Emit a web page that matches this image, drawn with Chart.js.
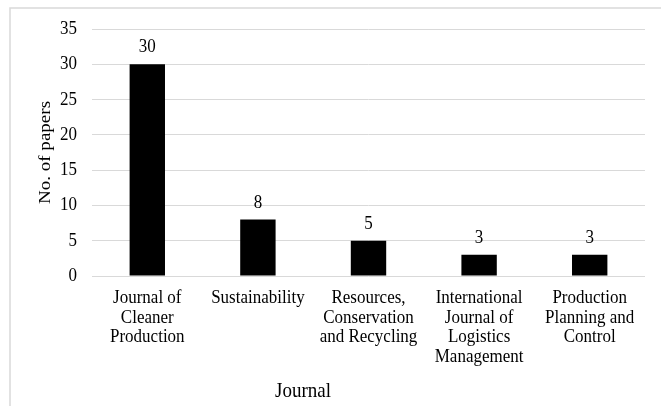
<!DOCTYPE html>
<html>
<head>
<meta charset="utf-8">
<script src="https://cdn.jsdelivr.net/npm/chart.js@4"></script>
<style>
  html, body { margin: 0; padding: 0; background: #ffffff; }
  #wrap { width: 661px; height: 406px; position: relative; }
</style>
</head>
<body>
<div id="wrap"><canvas id="chart" width="661" height="406"></canvas></div>
<script>
// Journals and number of papers published in each
const journals = [
  ['Journal of', 'Cleaner', 'Production'],
  ['Sustainability'],
  ['Resources,', 'Conservation', 'and Recycling'],
  ['International', 'Journal of', 'Logistics', 'Management'],
  ['Production', 'Planning and', 'Control']
];
const paperCounts = [30, 8, 5, 3, 3];
const yTicks = [0, 5, 10, 15, 20, 25, 30, 35];

const FONT = 'Liberation Serif, Times New Roman, serif';
const TEXT = '#000000';
const TEXT_STRETCH = 1.12; // glyphs are drawn slightly taller than wide

// Draw all text with a small vertical stretch about its anchor point
const tallTextPlugin = {
  id: 'tallText',
  beforeInit(chart) {
    const ctx = chart.ctx;
    if (ctx.__tall) return;
    const orig = ctx.fillText.bind(ctx);
    ctx.fillText = function (text, x, y, maxWidth) {
      const m = ctx.getTransform();
      const p = m.transformPoint(new DOMPoint(x, y));
      const s = new DOMMatrix()
        .translate(p.x, p.y)
        .scale(1, TEXT_STRETCH)
        .translate(-p.x, -p.y)
        .multiply(m);
      ctx.setTransform(s);
      if (maxWidth === undefined) orig(text, x, y); else orig(text, x, y, maxWidth);
      ctx.setTransform(m);
    };
    ctx.__tall = true;
  }
};

// Thin frame around the figure
const framePlugin = {
  id: 'frame',
  beforeDraw(chart) {
    const ctx = chart.ctx;
    ctx.save();
    ctx.fillStyle = '#ffffff';
    ctx.fillRect(0, 0, chart.width, chart.height);
    ctx.strokeStyle = '#d9d9d9';
    ctx.lineWidth = 1.5;
    ctx.strokeRect(10, 8, chart.width + 20, chart.height + 20);
    ctx.restore();
  }
};

// Value labels above each bar, and the category axis title
const labelPlugin = {
  id: 'valueLabels',
  afterDatasetsDraw(chart) {
    const ctx = chart.ctx;
    ctx.save();
    ctx.font = '17px ' + FONT;
    ctx.fillStyle = TEXT;
    ctx.textAlign = 'center';
    ctx.textBaseline = 'middle';
    const meta = chart.getDatasetMeta(0);
    meta.data.forEach((bar, i) => {
      ctx.fillText(String(chart.data.datasets[0].data[i]), bar.x, bar.y - 17);
    });
    ctx.font = '19px ' + FONT;
    ctx.fillText('Journal', 303, 391);
    ctx.restore();
  }
};

new Chart(document.getElementById('chart'), {
  type: 'bar',
  data: {
    labels: journals,
    datasets: [{
      data: paperCounts,
      backgroundColor: '#000000',
      borderWidth: 0,
      categoryPercentage: 1.0,
      barPercentage: 0.32
    }]
  },
  options: {
    responsive: false,
    animation: false,
    devicePixelRatio: 1,
    layout: { padding: { left: 30, top: 29, right: 16, bottom: 0 } },
    plugins: {
      legend: { display: false },
      tooltip: { enabled: false }
    },
    scales: {
      x: {
        grid: { display: false, drawTicks: false },
        border: { display: false },
        ticks: {
          color: TEXT,
          font: { family: FONT, size: 17, lineHeight: 1.16 },
          padding: 12,
          maxRotation: 0,
          autoSkip: false
        },
        afterFit(scale) { scale.height = 130; }
      },
      y: {
        min: 0,
        max: 35,
        afterBuildTicks(scale) { scale.ticks = yTicks.map(v => ({ value: v })); },
        grid: { color: '#d9d9d9', lineWidth: 1, drawTicks: false },
        border: { display: false },
        ticks: {
          color: TEXT,
          font: { family: FONT, size: 17 },
          padding: 15
        },
        title: {
          display: true,
          text: 'No. of papers',
          color: TEXT,
          font: { family: FONT, size: 17 },
          padding: { top: 5, bottom: 0 }
        },
        afterFit(scale) { scale.width = 62; }
      }
    }
  },
  plugins: [tallTextPlugin, framePlugin, labelPlugin]
});
</script>
</body>
</html>
